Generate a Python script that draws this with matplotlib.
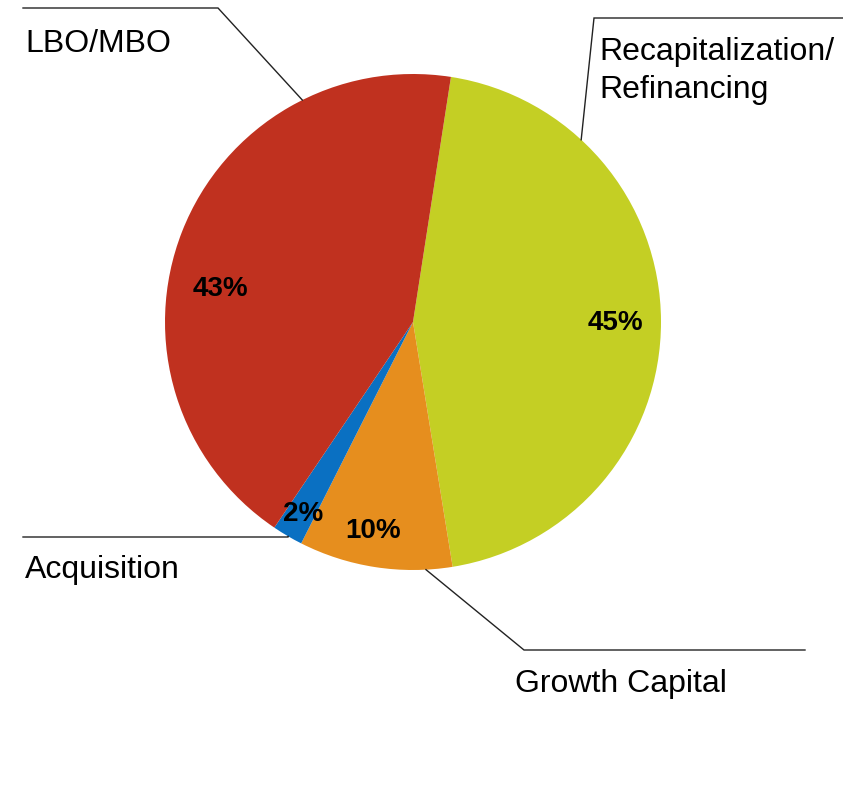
import matplotlib.pyplot as plt
import numpy as np

plt.rcParams['font.family'] = ['Liberation Sans', 'DejaVu Sans']

# data, in drawing order (clockwise from the top)
categories = ['Recapitalization/\nRefinancing', 'Growth Capital', 'Acquisition', 'LBO/MBO']
shares = [45, 10, 2, 43]
colors = ['#C4CF24', '#E68E1E', '#0A70C2', '#C0311F']

W, H = 843, 790
CX, CY, R = 413, H - 322, 248


def px(x, y):
    # image pixel (top-left origin) -> data coords
    return x, H - y


fig = plt.figure(figsize=(W / 100, H / 100), dpi=100)
ax = fig.add_axes([0, 0, 1, 1])

wedges, texts, autotexts = ax.pie(
    shares, colors=colors, startangle=81.2, counterclock=False,
    center=(CX, CY), radius=R, autopct='%d%%', pctdistance=0.8,
    textprops=dict(fontsize=20, fontweight='bold', color='black'),
    wedgeprops=dict(linewidth=0))

# percent label spots (Excel "best fit" style)
pct_pos = [(615, 323), (373, 531), (303, 514), (220, 289)]
for t, (x, y) in zip(autotexts, pct_pos):
    t.set_position(px(x, y))
    t.set_ha('center')
    t.set_va('center')

# leader lines: angle on the rim, elbow, end of the shelf
leaders = [
    (47.3, (594, 18), (843, 18)),
    (273.0, (524, 650), (805, 650)),
    (239.8, (288, 537), (23, 537)),
    (116.5, (218, 8), (23, 8)),
]
for ang, elbow, end in leaders:
    a = np.deg2rad(ang)
    x0, y0 = CX + R * np.cos(a), CY + R * np.sin(a)
    ex, ey = px(*elbow)
    fx, fy = px(*end)
    ax.plot([x0, ex, fx], [y0, ey, fy], color='#222222', lw=1.0,
            solid_joinstyle='miter')

# category labels (left x, baseline y of the last line, in pixels)
label_pos = [(599, 98), (515, 692), (25, 578), (25, 52)]
for name, (x, y) in zip(categories, label_pos):
    ax.text(*px(x, y), name, fontsize=23, ha='left', va='baseline',
            linespacing=1.36, color='black')

ax.set_xlim(0, W)
ax.set_ylim(0, H)
ax.set_aspect('equal')
ax.axis('off')

fig.savefig('out.png', dpi=100)
